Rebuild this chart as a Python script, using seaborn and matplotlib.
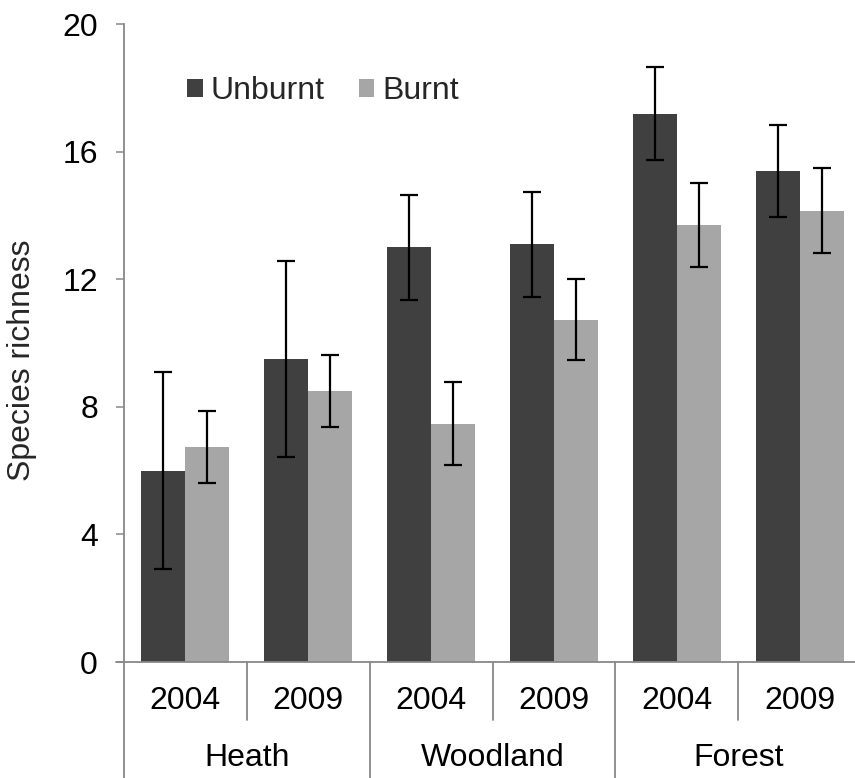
import matplotlib
matplotlib.use("Agg")
import matplotlib.pyplot as plt
import seaborn as sns
import pandas as pd
import numpy as np
from matplotlib.patches import Patch

sns.set_theme(style="white")
plt.rcParams['font.family'] = ['Liberation Sans', 'DejaVu Sans']

habitats = ["Heath", "Woodland", "Forest"]
years = ["2004", "2009"]
treatments = ["Unburnt", "Burnt"]
unburnt_mean = [6.0, 9.5, 13.0, 13.1, 17.2, 15.4]
unburnt_err = [3.08, 3.07, 1.66, 1.65, 1.46, 1.45]
burnt_mean = [6.74, 8.5, 7.48, 10.74, 13.7, 14.15]
burnt_err = [1.13, 1.13, 1.3, 1.26, 1.32, 1.33]
colors = {"Unburnt": "#404040", "Burnt": "#a6a6a6"}

slots = [f"{h} {y}" for h in habitats for y in years]
df = pd.DataFrame({
    "slot": slots * 2,
    "Treatment": ["Unburnt"] * 6 + ["Burnt"] * 6,
    "richness": unburnt_mean + burnt_mean,
    "err": unburnt_err + burnt_err,
})

FS = 23
W, H = 855, 778
fig = plt.figure(figsize=(W / 100, H / 100), dpi=100)
ax_left, ax_right, ax_top, ax_bot = 124, 861, 24.3, 662
axw = ax_right - ax_left
axh = ax_bot - ax_top
ax = fig.add_axes([ax_left / W, (H - ax_bot) / H, axw / W, axh / H])

sns.barplot(data=df, x="slot", y="richness", hue="Treatment", order=slots,
            hue_order=treatments, palette=colors, errorbar=None, width=0.716,
            linewidth=0, saturation=1, ax=ax, legend=False)

# error bars
for container, t in zip(ax.containers, treatments):
    sub = df[df.Treatment == t].set_index("slot").loc[slots]
    xs = [b.get_x() + b.get_width() / 2 for b in container]
    ax.errorbar(xs, sub.richness.values, yerr=sub.err.values, fmt="none",
                ecolor="black", elinewidth=1.6, capsize=6.5, capthick=1.6, zorder=5)

ax.set_ylim(0, 20)
ax.set_xlim(-0.5, 5.5)
ax.set_yticks([0, 4, 8, 12, 16, 20])
ax.set_xticks([])
ax.set_xlabel("")
ax.set_ylabel("Species richness", fontsize=FS)
ax.yaxis.set_label_coords((37 - ax_left) / axw, (ax_bot - 360) / axh)
ax.tick_params(axis="y", which="both", left=True, direction="out", length=8 * 0.72,
               width=1.1, color="#888888", pad=13, labelsize=FS, labelcolor="black")
for s in ["top", "right"]:
    ax.spines[s].set_visible(False)
for s in ["left", "bottom"]:
    ax.spines[s].set_color("#888888")
    ax.spines[s].set_linewidth(1.3)

def ypx(px):
    return -px / axh

trans = ax.get_xaxis_transform()
# extend x axis line to the left like the tick
ax.plot([-0.5 - 8 / (axw / 6), -0.5], [0, 0], transform=trans,
        color="#888888", lw=1.3, clip_on=False)
# year separators
for i in range(7):
    x = i - 0.5
    bottom = ypx(H - ax_bot) if i % 2 == 0 else ypx(58)
    ax.plot([x, x], [0, bottom], transform=trans, color="#888888", lw=1.3, clip_on=False)
# labels
for i, s in enumerate(slots):
    ax.text(i, ypx(39), s.split()[1], transform=trans, ha="center", va="center",
            fontsize=FS, color="black")
for j, h in enumerate(habitats):
    ax.text(2 * j + 0.5, ypx(96), h, transform=trans, ha="center", va="center",
            fontsize=FS, color="black")

handles = [Patch(facecolor=colors[t], edgecolor="none") for t in treatments]
fig.legend(handles, treatments, loc="center left", bbox_to_anchor=(187 / W, 1 - 91 / H),
           bbox_transform=fig.transFigure, ncol=2, frameon=False, fontsize=FS,
           handlelength=0.5, handleheight=0.5, handletextpad=0.25, columnspacing=1.05,
           borderpad=0, borderaxespad=0)

fig.savefig("out.png", dpi=100)
